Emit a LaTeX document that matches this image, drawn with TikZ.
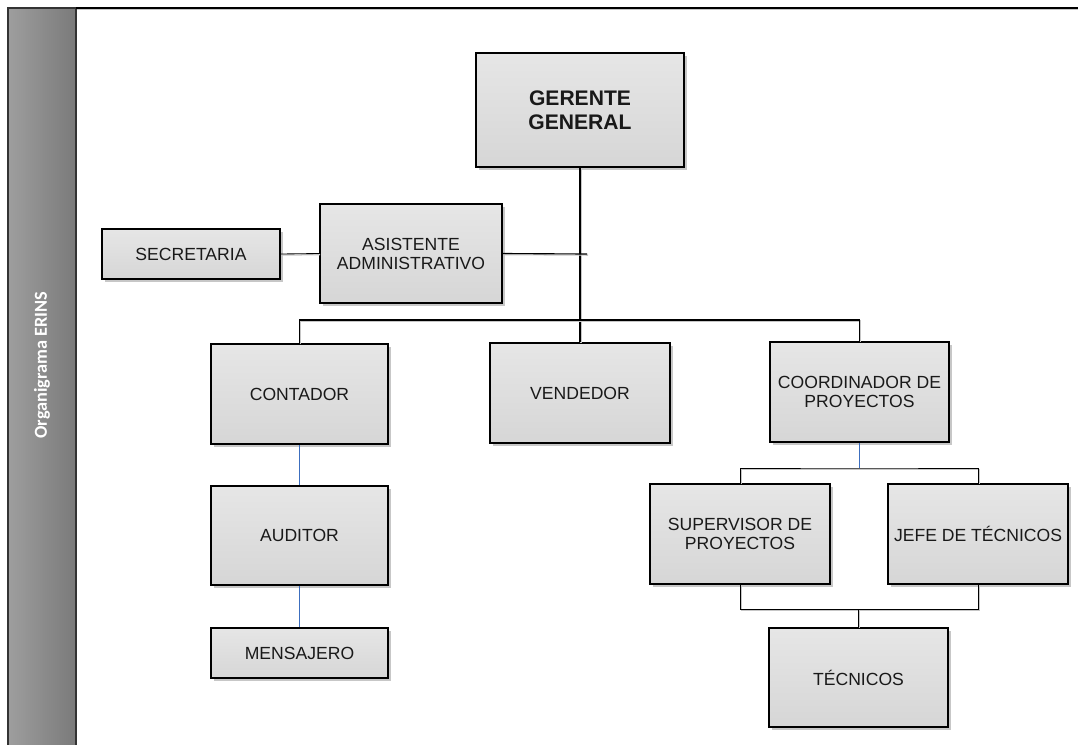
\documentclass[tikz,border=0pt]{standalone}
\usepackage{fontspec}
\setmainfont{Liberation Sans}
\newfontfamily\bandfont{Carlito}
\usepackage{tikz}
\usetikzlibrary{shadows}
\definecolor{boxtop}{RGB}{230,230,230}
\definecolor{boxbot}{RGB}{214,214,214}
\definecolor{bandleft}{RGB}{158,158,158}
\definecolor{bandright}{RGB}{122,122,122}
\definecolor{linkblue}{RGB}{60,110,190}

\begin{document}
\begin{tikzpicture}[x=0.025cm, y=-0.025cm,
  post/.style={draw, line width=1.4pt, top color=boxtop, bottom color=boxbot, align=center,
    inner sep=2pt, text=black!90, font=\fontsize{12.5}{13.5}\selectfont,
    drop shadow={shadow xshift=2pt, shadow yshift=-2pt, fill=gray!55, opacity=0.8}},
  minorpost/.style={post, line width=0.8pt},
  conn/.style={black, line width=0.8pt,
    preaction={draw=gray!45, line width=0.9pt, transform canvas={shift={(0.8pt,-0.8pt)}}}},
  thinconn/.style={conn, line width=0.6pt},
  blueconn/.style={linkblue, line width=0.8pt}
]
\useasboundingbox (0,0) rectangle (1078,744);
% side band and frame
\shade[left color=bandleft, right color=bandright] (8,8) rectangle (76,750);
\draw[black!80, line width=1.2pt] (8,750) -- (8,8) -- (76,8) -- (76,750);
\draw[conn, line width=1.2pt] (76,8) -- (1080,8);
\node[rotate=90, text=white, font=\bandfont\bfseries\fontsize{13}{15}\selectfont] (band) at (42,365) {Organigrama ERINS};

% posts
\node[post, minimum width=5.2cm, minimum height=2.85cm, font=\bfseries\fontsize{15}{17}\selectfont] (gerente) at (580,110) {GERENTE\\GENERAL};
\node[post, minimum width=4.55cm, minimum height=2.475cm] (asistente) at (411,253.5) {ASISTENTE\\ADMINISTRATIVO};
\node[minorpost, minimum width=4.45cm, minimum height=1.25cm] (secretaria) at (191,254) {SECRETARIA};
\node[post, minimum width=4.425cm, minimum height=2.5cm] (contador) at (299.5,394) {CONTADOR};
\node[post, minimum width=4.5cm, minimum height=2.5cm] (vendedor) at (580,393) {VENDEDOR};
\node[post, minimum width=4.475cm, minimum height=2.5cm] (coordinador) at (859.5,392) {COORDINADOR DE\\PROYECTOS};
\node[post, minimum width=4.425cm, minimum height=2.475cm] (auditor) at (299.5,535.5) {AUDITOR};
\node[minorpost, minimum width=4.425cm, minimum height=1.25cm] (mensajero) at (299.5,653) {MENSAJERO};
\node[post, minimum width=4.5cm, minimum height=2.5cm] (supervisor) at (740,534) {SUPERVISOR DE\\PROYECTOS};
\node[post, minimum width=4.5cm, minimum height=2.5cm] (jefe) at (978,534) {JEFE DE TÉCNICOS};
\node[post, minimum width=4.475cm, minimum height=2.475cm] (tecnicos) at (858.5,677.5) {TÉCNICOS};

% connectors
\coordinate (asistenteend) at (587,254);
\coordinate (topbus) at (580,320);
\coordinate (coordbus) at (859.5,468);
\coordinate (tecbus) at (858.5,609);
\draw[conn] (gerente.south) -- (vendedor.north);
\draw[conn] (asistente.east) -- (asistenteend);
\draw[thinconn] (secretaria.east) -- (asistente.west);
\draw[conn] (contador.north) |- (topbus) -| (coordinador.north);
\draw[blueconn] (contador.south) -- (auditor.north);
\draw[blueconn] (auditor.south) -- (mensajero.north);
\draw[thinconn] (supervisor.north) |- (coordbus) -| (jefe.north);
\draw[blueconn] (coordinador.south) -- (coordbus);
\draw[thinconn] (supervisor.south) |- (tecbus) -| (jefe.south);
\draw[thinconn] (tecbus) -- (tecnicos.north);
\end{tikzpicture}
\end{document}
